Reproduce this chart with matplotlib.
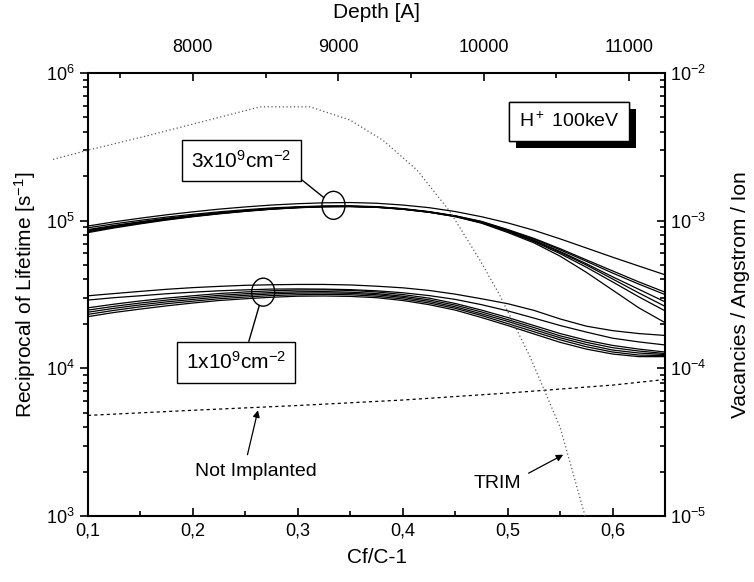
import numpy as np
import matplotlib
matplotlib.use('Agg')
import matplotlib.pyplot as plt
import matplotlib.transforms as mtransforms
from matplotlib.patches import Ellipse
from matplotlib.ticker import FuncFormatter, MultipleLocator, LogLocator
from matplotlib import patheffects

plt.rcParams['font.family'] = 'Liberation Sans'
plt.rcParams['mathtext.fontset'] = 'custom'
plt.rcParams['mathtext.rm'] = 'Liberation Sans'
plt.rcParams['mathtext.it'] = 'Liberation Sans'
plt.rcParams['mathtext.default'] = 'regular'

# datos

cf = [0.100, 0.125, 0.150, 0.175, 0.200, 0.225, 0.250, 0.275, 0.300, 0.325, 0.350, 0.375,
      0.400, 0.425, 0.450, 0.475, 0.500, 0.525, 0.550, 0.575, 0.600, 0.625, 0.650]

# 3x10^9 cm^-2
up1 = [9.20e4, 9.82e4, 1.040e5, 1.096e5, 1.148e5, 1.197e5, 1.239e5, 1.276e5, 1.303e5, 1.321e5, 1.327e5, 1.312e5,
       1.276e5, 1.225e5, 1.153e5, 1.064e5, 9.66e4, 8.61e4, 7.53e4, 6.53e4, 5.66e4, 4.93e4, 4.30e4]
up2 = [8.95e4, 9.52e4, 1.006e5, 1.058e5, 1.104e5, 1.148e5, 1.186e5, 1.220e5, 1.243e5, 1.258e5, 1.260e5, 1.245e5,
       1.207e5, 1.152e5, 1.080e5, 9.89e4, 8.71e4, 7.59e4, 6.46e4, 5.43e4, 4.57e4, 3.85e4, 3.28e4]
up3 = [8.71e4, 9.29e4, 9.84e4, 1.038e5, 1.086e5, 1.132e5, 1.172e5, 1.208e5, 1.233e5, 1.250e5, 1.253e5, 1.239e5,
       1.202e5, 1.148e5, 1.076e5, 9.84e4, 8.65e4, 7.50e4, 6.35e4, 5.31e4, 4.42e4, 3.72e4, 3.16e4]
up4 = [8.60e4, 9.19e4, 9.76e4, 1.031e5, 1.080e5, 1.127e5, 1.168e5, 1.205e5, 1.231e5, 1.248e5, 1.251e5, 1.237e5,
       1.200e5, 1.146e5, 1.074e5, 9.77e4, 8.57e4, 7.38e4, 6.19e4, 5.11e4, 4.17e4, 3.43e4, 2.82e4]
up5 = [8.50e4, 9.10e4, 9.68e4, 1.024e5, 1.075e5, 1.122e5, 1.164e5, 1.201e5, 1.228e5, 1.246e5, 1.249e5, 1.235e5,
       1.198e5, 1.143e5, 1.071e5, 9.73e4, 8.51e4, 7.29e4, 6.10e4, 5.01e4, 4.03e4, 3.24e4, 2.63e4]
up6 = [8.40e4, 9.02e4, 9.60e4, 1.017e5, 1.069e5, 1.117e5, 1.160e5, 1.198e5, 1.226e5, 1.244e5, 1.247e5, 1.233e5,
       1.196e5, 1.141e5, 1.068e5, 9.68e4, 8.45e4, 7.21e4, 5.98e4, 4.84e4, 3.85e4, 3.05e4, 2.45e4]
up7 = [8.30e4, 8.93e4, 9.52e4, 1.010e5, 1.063e5, 1.112e5, 1.156e5, 1.195e5, 1.223e5, 1.242e5, 1.245e5, 1.231e5,
       1.194e5, 1.139e5, 1.065e5, 9.62e4, 8.32e4, 7.08e4, 5.75e4, 4.47e4, 3.39e4, 2.57e4, 2.04e4]

# 1x10^9 cm^-2
lo1 = [3.10e4, 3.21e4, 3.32e4, 3.43e4, 3.52e4, 3.59e4, 3.65e4, 3.68e4, 3.70e4, 3.70e4, 3.67e4, 3.60e4,
       3.51e4, 3.37e4, 3.18e4, 2.96e4, 2.74e4, 2.47e4, 2.16e4, 1.93e4, 1.80e4, 1.72e4, 1.67e4]
lo2 = [2.90e4, 3.01e4, 3.10e4, 3.20e4, 3.28e4, 3.35e4, 3.40e4, 3.44e4, 3.45e4, 3.44e4, 3.41e4, 3.35e4,
       3.25e4, 3.11e4, 2.93e4, 2.70e4, 2.45e4, 2.19e4, 1.95e4, 1.76e4, 1.60e4, 1.51e4, 1.44e4]
lo3 = [2.57e4, 2.72e4, 2.86e4, 2.99e4, 3.10e4, 3.21e4, 3.29e4, 3.35e4, 3.39e4, 3.40e4, 3.37e4, 3.29e4,
       3.16e4, 2.99e4, 2.75e4, 2.48e4, 2.21e4, 1.95e4, 1.72e4, 1.55e4, 1.43e4, 1.35e4, 1.29e4]
lo4 = [2.48e4, 2.63e4, 2.77e4, 2.90e4, 3.01e4, 3.12e4, 3.20e4, 3.26e4, 3.30e4, 3.31e4, 3.28e4, 3.21e4,
       3.08e4, 2.91e4, 2.68e4, 2.41e4, 2.14e4, 1.89e4, 1.66e4, 1.50e4, 1.38e4, 1.31e4, 1.26e4]
lo5 = [2.40e4, 2.55e4, 2.69e4, 2.82e4, 2.93e4, 3.04e4, 3.12e4, 3.19e4, 3.23e4, 3.24e4, 3.22e4, 3.15e4,
       3.02e4, 2.84e4, 2.61e4, 2.34e4, 2.08e4, 1.83e4, 1.61e4, 1.45e4, 1.33e4, 1.27e4, 1.24e4]
lo6 = [2.32e4, 2.47e4, 2.61e4, 2.74e4, 2.85e4, 2.96e4, 3.04e4, 3.11e4, 3.15e4, 3.17e4, 3.15e4, 3.08e4,
       2.95e4, 2.77e4, 2.55e4, 2.28e4, 2.01e4, 1.77e4, 1.56e4, 1.40e4, 1.29e4, 1.23e4, 1.22e4]
lo7 = [2.24e4, 2.39e4, 2.52e4, 2.65e4, 2.77e4, 2.88e4, 2.96e4, 3.03e4, 3.08e4, 3.09e4, 3.07e4, 3.01e4,
       2.88e4, 2.70e4, 2.48e4, 2.21e4, 1.95e4, 1.71e4, 1.50e4, 1.35e4, 1.25e4, 1.20e4, 1.20e4]

upper = [up1, up2, up3, up4, up5, up6, up7]
lower = [lo1, lo2, lo3, lo4, lo5, lo6, lo7]

# sin implantar
cf_ni = [0.10, 0.20, 0.30, 0.40, 0.50, 0.60, 0.65]
not_impl = [4.8e3, 5.2e3, 5.6e3, 6.1e3, 6.8e3, 7.7e3, 8.4e3]

# perfil TRIM (profundidad en A, vacancias / A / ion)
depth = [7037, 7278, 7705, 8462, 8806, 9081, 9308, 9542, 9769, 9975, 10113, 10319, 10526, 10698]
vac = [2.6e-3, 3.0e-3, 3.8e-3, 5.9e-3, 5.9e-3, 4.8e-3, 3.5e-3, 2.2e-3, 1.15e-3, 5.4e-4, 3.1e-4, 1.2e-4, 4.0e-5, 1.0e-5]

fig = plt.figure(figsize=(7.54, 5.82), dpi=100)
rect = [88 / 754, 1 - 516 / 582, 577 / 754, 443 / 582]
ax = fig.add_axes(rect)

for c in upper + lower:
    ax.plot(cf, c, color='k', lw=0.9)
ax.plot(cf_ni, not_impl, color='k', lw=0.9, ls=(0, (2.5, 2.5)))

ax.set_xlim(0.1, 0.65)
ax.set_yscale('log')
ax.set_ylim(1e3, 1e6)
ax.xaxis.set_major_locator(MultipleLocator(0.1))
ax.xaxis.set_minor_locator(MultipleLocator(0.05))
ax.xaxis.set_major_formatter(FuncFormatter(lambda v, p: ('%.1f' % v).replace('.', ',')))
ax.yaxis.set_minor_locator(LogLocator(base=10, subs=np.arange(2, 10)))
ax.tick_params(axis='x', which='both', direction='in', labelsize=13, width=1.2, pad=5)
ax.tick_params(axis='y', which='both', direction='out', labelsize=13, width=1.2)
ax.tick_params(which='major', length=6)
ax.tick_params(which='minor', length=3.5)
for s in ax.spines.values():
    s.set_linewidth(1.5)
ax.set_xlabel('Cf/C-1', fontsize=15, labelpad=6)
ax.set_ylabel('Reciprocal of Lifetime [s$^{-1}$]', fontsize=15, labelpad=6)

# eje de profundidad (arriba) y vacancias (derecha)
axt = fig.add_axes(rect, frameon=False)
axt.patch.set_visible(False)
axt.plot(depth, vac, color='0.35', lw=0.9, ls=(0, (1, 2)), clip_on=False)
axt.set_xlim(7278, 11248)
axt.set_yscale('log')
axt.set_ylim(1e-5, 1e-2)
axt.xaxis.tick_top()
axt.xaxis.set_label_position('top')
axt.yaxis.tick_right()
axt.yaxis.set_label_position('right')
axt.xaxis.set_major_locator(MultipleLocator(1000))
axt.xaxis.set_minor_locator(MultipleLocator(500))
axt.yaxis.set_minor_locator(LogLocator(base=10, subs=np.arange(2, 10)))
axt.tick_params(which='both', direction='in', labelsize=13, width=1.2)
axt.tick_params(which='major', length=6)
axt.tick_params(which='minor', length=3.5)
axt.tick_params(axis='x', pad=12)
axt.set_xlabel('Depth [A]', fontsize=15, labelpad=15)
axt.set_ylabel('Vacancies / Angstrom / Ion', fontsize=15, labelpad=18)


def ring(x, y):
    tr = fig.dpi_scale_trans + mtransforms.ScaledTranslation(x, y, ax.transData)
    ax.add_patch(Ellipse((0, 0), 0.23, 0.28, transform=tr, fill=False, lw=1.0, ec='k'))


ring(0.334, 1.27e5)
ring(0.267, 3.28e4)

box = dict(boxstyle='square,pad=0.45', fc='w', ec='k', lw=1)
ax.annotate('3x10$^9$cm$^{-2}$', xy=(0.334, 1.27e5), xytext=(0.246, 2.56e5),
            fontsize=15, ha='center', va='center', bbox=box,
            arrowprops=dict(arrowstyle='-', lw=1, color='k', relpos=(1, 0), shrinkA=0, shrinkB=9))
ax.annotate('1x10$^9$cm$^{-2}$', xy=(0.267, 3.28e4), xytext=(0.241, 1.1e4),
            fontsize=15, ha='center', va='center', bbox=box,
            arrowprops=dict(arrowstyle='-', lw=1, color='k', relpos=(0.6, 1), shrinkA=0, shrinkB=10))

t = ax.text(0.834, 0.891, 'H$^+$ 100keV', transform=ax.transAxes, ha='center', va='center',
            fontsize=14, bbox=dict(boxstyle='square,pad=0.5', fc='w', ec='k', lw=1))
t.get_bbox_patch().set_path_effects([patheffects.withSimplePatchShadow(offset=(5, -5), shadow_rgbFace='k', alpha=1.0),
                                     patheffects.Normal()])

arrow = dict(arrowstyle='-|>', lw=0.9, color='k', mutation_scale=10, shrinkA=0, shrinkB=0)
ax.text(0.26, 2.0e3, 'Not Implanted', fontsize=14, ha='center', va='center')
ax.annotate('', xy=(0.262, 5.2e3), xytext=(0.252, 2.6e3), arrowprops=arrow)
ax.text(0.49, 1.66e3, 'TRIM', fontsize=14, ha='center', va='center')
ax.annotate('', xy=(0.553, 2.6e3), xytext=(0.52, 1.95e3), arrowprops=arrow)

fig.savefig('out.png', dpi=100)
